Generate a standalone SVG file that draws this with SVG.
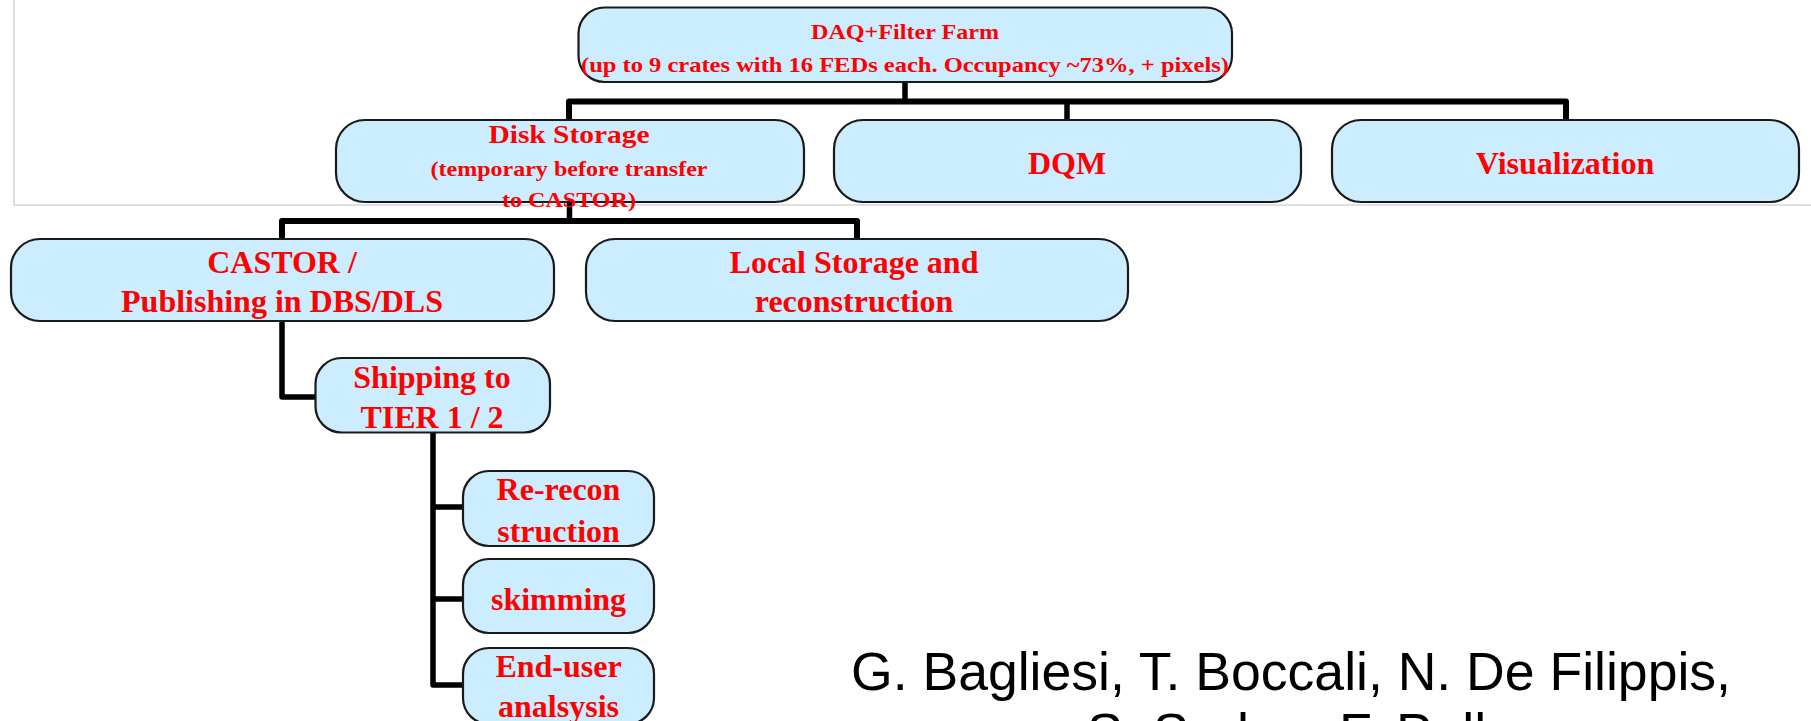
<svg xmlns="http://www.w3.org/2000/svg" width="1811" height="721" viewBox="0 0 1811 721">
<defs>
<style>
.box{fill:#CCECFF;stroke:#1a1a1a;stroke-width:2.2}
.lbl{font-family:"Liberation Serif","Times New Roman",serif;font-weight:bold;fill:#FF0000;text-anchor:middle}
.big{font-size:32px}
.sm{font-size:21px}
.con{fill:none;stroke:#000;stroke-width:5.5;stroke-linejoin:round}
.author{font-family:"Liberation Sans",Arial,sans-serif;font-size:54px;fill:#000}
</style>
</defs>
<rect x="0" y="0" width="1811" height="721" fill="#fff"/>
<path d="M14,0 V205 H1811" fill="none" stroke="#d6d6d6" stroke-width="1.6"/>
<g id="connectors">
<path class="con" d="M905,82 V101.5"/>
<path class="con" style="stroke-width:6" d="M569,120 V101.5 H1566 V120"/>
<path class="con" d="M1067,101.5 V120"/>
<path class="con" d="M569.5,202 V221"/>
<path class="con" style="stroke-width:6" d="M282,239 V221 H857 V239"/>
<path class="con" d="M282,321 V397 H315"/>
<path class="con" d="M433,432 V685 H463"/>
<path class="con" d="M433,507 H463"/>
<path class="con" d="M433,599 H463"/>
</g>
<g id="daq">
<rect class="box" x="578.5" y="7.5" width="653.5" height="74.5" rx="26"/>
<text class="lbl sm" x="905" y="39" textLength="188" lengthAdjust="spacingAndGlyphs">DAQ+Filter Farm</text>
<text class="lbl sm" x="905" y="72" textLength="648" lengthAdjust="spacingAndGlyphs">(up to 9 crates with 16 FEDs each. Occupancy ~73%, + pixels)</text>
</g>
<g id="disk">
<rect class="box" x="336" y="120" width="468" height="82" rx="29"/>
<text class="lbl" style="font-size:26px" x="569" y="143" textLength="161" lengthAdjust="spacingAndGlyphs">Disk Storage</text>
<text class="lbl sm" x="569" y="176" textLength="277" lengthAdjust="spacingAndGlyphs">(temporary before transfer</text>
<text class="lbl sm" x="569" y="207" textLength="134" lengthAdjust="spacingAndGlyphs">to CASTOR)</text>
</g>
<g id="dqm">
<rect class="box" x="834" y="120" width="467" height="82" rx="29"/>
<text class="lbl big" x="1067" y="174">DQM</text>
</g>
<g id="visualization">
<rect class="box" x="1332" y="120" width="467" height="82" rx="29"/>
<text class="lbl big" x="1565" y="174">Visualization</text>
</g>
<g id="castor">
<rect class="box" x="11" y="239" width="543" height="82" rx="29"/>
<text class="lbl big" x="282" y="272.5">CASTOR /</text>
<text class="lbl big" x="282" y="311.5">Publishing in DBS/DLS</text>
</g>
<g id="local">
<rect class="box" x="586" y="239" width="542" height="82" rx="29"/>
<text class="lbl big" x="854" y="272.5">Local Storage and</text>
<text class="lbl big" x="854" y="311.5">reconstruction</text>
</g>
<g id="shipping">
<rect class="box" x="315.5" y="358" width="234.5" height="74.5" rx="26"/>
<text class="lbl big" x="432" y="388">Shipping to</text>
<text class="lbl big" x="432" y="428">TIER 1 / 2</text>
</g>
<g id="rerecon">
<rect class="box" x="463" y="471" width="191" height="75" rx="26"/>
<text class="lbl big" x="558.5" y="500">Re-recon</text>
<text class="lbl big" x="558.5" y="542">struction</text>
</g>
<g id="skimming">
<rect class="box" x="463" y="559" width="191" height="74" rx="26"/>
<text class="lbl big" x="558.5" y="610">skimming</text>
</g>
<g id="enduser">
<rect class="box" x="463" y="648" width="191" height="76" rx="26"/>
<text class="lbl big" x="558.5" y="677">End-user</text>
<text class="lbl big" x="558.5" y="717">analsysis</text>
</g>
<g id="authors">
<text class="author" x="851" y="690" textLength="880" lengthAdjust="spacingAndGlyphs">G. Bagliesi, T. Boccali, N. De Filippis,</text>
<text class="author" x="1087" y="751">S. Sarkar, F. Palla</text>
</g>
</svg>
